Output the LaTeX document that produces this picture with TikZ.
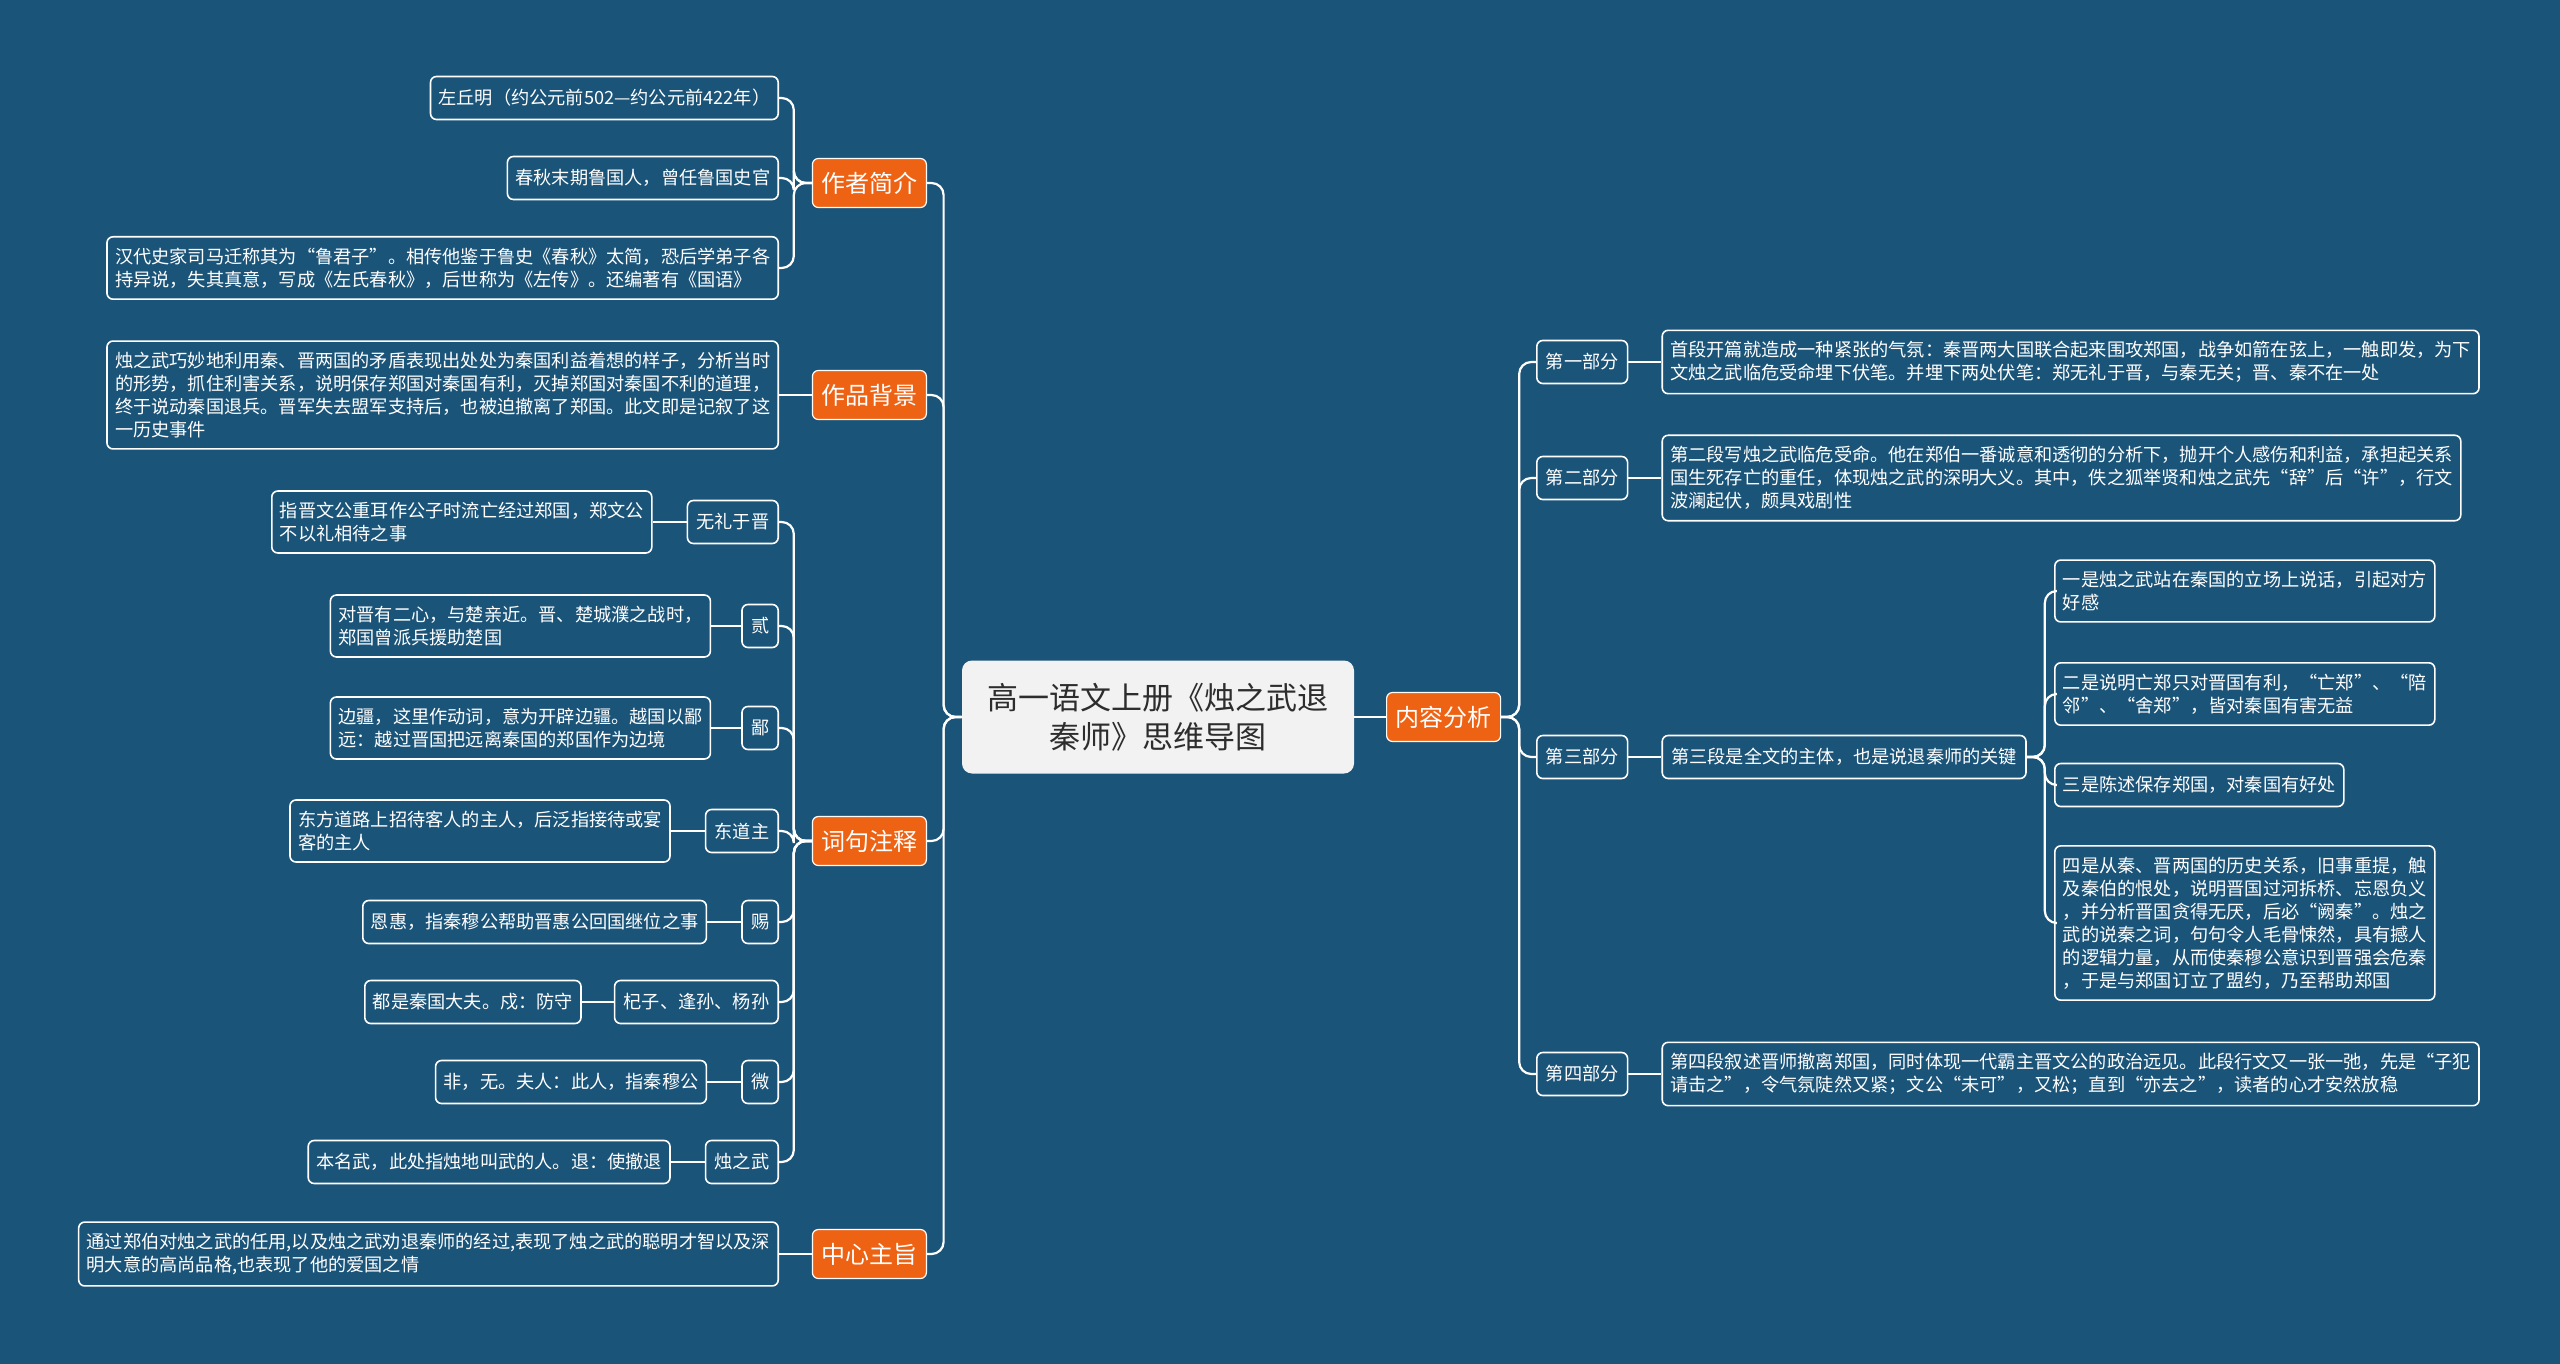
\documentclass[tikz,border=0pt]{standalone}
\usepackage{fontspec}
\setmainfont{Noto Sans CJK SC}
\usepackage{tikz}
\usetikzlibrary{positioning}
\definecolor{bgblue}{RGB}{27,84,121}
\definecolor{topicorange}{RGB}{238,98,20}
\definecolor{rootgray}{RGB}{242,242,242}
\definecolor{roottext}{RGB}{45,45,45}
\tikzset{
  rootbox/.style={fill=rootgray,rounded corners=5pt,text=roottext,align=center,font=\fontsize{15.5}{19.5}\selectfont,minimum width=196pt,minimum height=56.5pt,inner sep=0pt},
  topicbox/.style={fill=topicorange,draw=white,line width=0.6pt,rounded corners=3pt,text=white,font=\fontsize{12}{14}\selectfont,minimum height=24.5pt,inner xsep=4.5pt,inner ysep=0pt},
  labelbox/.style={draw=white,line width=0.8pt,rounded corners=3pt,text=white,font=\fontsize{9.1}{11.5}\selectfont,minimum height=21.5pt,inner xsep=4.5pt,inner ysep=0pt},
  notebox/.style={draw=white,line width=0.8pt,rounded corners=3pt,text=white,align=left,font=\fontsize{9.1}{11.5}\selectfont,minimum height=21.5pt,inner xsep=4pt,inner ysep=5.5pt},
  link/.style={draw=white,line width=1.1pt,rounded corners=6pt},
}
\begin{document}
\begin{tikzpicture}[x=.5pt,y=-.5pt]
\path[use as bounding box] (0,0) rectangle (2560,1364);
\path[fill=bgblue,draw=none] (0,0) rectangle (2560,1364);
% centre and main topics
\node[rootbox] (root) at (1158,717) {高一语文上册《烛之武退\\秦师》思维导图};
\node[topicbox,anchor=east] (author) at (927,183) {作者简介};
\node[topicbox,anchor=east] (background) at (927,395) {作品背景};
\node[topicbox,anchor=east] (notes) at (927,841) {词句注释};
\node[topicbox,anchor=east] (theme) at (927,1254) {中心主旨};
\node[topicbox,anchor=west] (content) at (1386,717) {内容分析};
% author
\node[notebox,anchor=east] (authorA) at (779,98) {左丘明（约公元前502—约公元前422年）};
\node[notebox,anchor=east] (authorB) at (779,178) {春秋末期鲁国人，曾任鲁国史官};
\node[notebox,anchor=east] (authorC) at (779,268) {汉代史家司马迁称其为“鲁君子”。相传他鉴于鲁史《春秋》太简，恐后学弟子各\\持异说，失其真意，写成《左氏春秋》，后世称为《左传》。还编著有《国语》};
% background
\node[notebox,anchor=east] (backgroundA) at (779,395) {烛之武巧妙地利用秦、晋两国的矛盾表现出处处为秦国利益着想的样子，分析当时\\的形势，抓住利害关系，说明保存郑国对秦国有利，灭掉郑国对秦国不利的道理，\\终于说动秦国退兵。晋军失去盟军支持后，也被迫撤离了郑国。此文即是记叙了这\\一历史事件};
% word notes
\node[labelbox,anchor=east] (wuli) at (779,522) {无礼于晋};
\node[notebox,left=17pt of wuli] (wuliText) {指晋文公重耳作公子时流亡经过郑国，郑文公\\不以礼相待之事};
\node[labelbox,anchor=east] (er) at (779,626) {贰};
\node[notebox,left=15pt of er] (erText) {对晋有二心，与楚亲近。晋、楚城濮之战时，\\郑国曾派兵援助楚国};
\node[labelbox,anchor=east] (bi) at (779,728) {鄙};
\node[notebox,left=15pt of bi] (biText) {边疆，这里作动词，意为开辟边疆。越国以鄙\\远：越过晋国把远离秦国的郑国作为边境};
\node[labelbox,anchor=east] (dongdao) at (779,831) {东道主};
\node[notebox,left=17pt of dongdao] (dongdaoText) {东方道路上招待客人的主人，后泛指接待或宴\\客的主人};
\node[labelbox,anchor=east] (ci) at (779,922) {赐};
\node[notebox,left=17pt of ci] (ciText) {恩惠，指秦穆公帮助晋惠公回国继位之事};
\node[labelbox,anchor=east] (qizi) at (779,1002) {杞子、逢孙、杨孙};
\node[notebox,left=16pt of qizi] (qiziText) {都是秦国大夫。戍：防守};
\node[labelbox,anchor=east] (wei) at (779,1082) {微};
\node[notebox,left=17pt of wei] (weiText) {非，无。夫人：此人，指秦穆公};
\node[labelbox,anchor=east] (zhu) at (779,1162) {烛之武};
\node[notebox,left=17pt of zhu] (zhuText) {本名武，此处指烛地叫武的人。退：使撤退};
% theme
\node[notebox,anchor=east] (themeA) at (779,1254) {通过郑伯对烛之武的任用,以及烛之武劝退秦师的经过,表现了烛之武的聪明才智以及深\\明大意的高尚品格,也表现了他的爱国之情};
% content analysis
\node[labelbox,anchor=west] (partA) at (1536,362) {第一部分};
\node[notebox,right=16.5pt of partA] (partAText) {首段开篇就造成一种紧张的气氛：秦晋两大国联合起来围攻郑国，战争如箭在弦上，一触即发，为下\\文烛之武临危受命埋下伏笔。并埋下两处伏笔：郑无礼于晋，与秦无关；晋、秦不在一处};
\node[labelbox,anchor=west] (partB) at (1536,478) {第二部分};
\node[notebox,right=16.5pt of partB] (partBText) {第二段写烛之武临危受命。他在郑伯一番诚意和透彻的分析下，抛开个人感伤和利益，承担起关系\\国生死存亡的重任，体现烛之武的深明大义。其中，佚之狐举贤和烛之武先“辞”后“许”，行文\\波澜起伏，颇具戏剧性};
\node[labelbox,anchor=west] (partC) at (1536,757) {第三部分};
\node[labelbox,right=16.5pt of partC] (partCText) {第三段是全文的主体，也是说退秦师的关键};
\node[notebox,anchor=west] (pointA) at (2054,591) {一是烛之武站在秦国的立场上说话，引起对方\\好感};
\node[notebox,anchor=west] (pointB) at (2054,694) {二是说明亡郑只对晋国有利，“亡郑”、“陪\\邻”、“舍郑”，皆对秦国有害无益};
\node[notebox,anchor=west] (pointC) at (2054,785) {三是陈述保存郑国，对秦国有好处};
\node[notebox,anchor=west] (pointD) at (2054,923) {四是从秦、晋两国的历史关系，旧事重提，触\\及秦伯的恨处，说明晋国过河拆桥、忘恩负义\\，并分析晋国贪得无厌，后必“阙秦”。烛之\\武的说秦之词，句句令人毛骨悚然，具有撼人\\的逻辑力量，从而使秦穆公意识到晋强会危秦\\，于是与郑国订立了盟约，乃至帮助郑国};
\node[labelbox,anchor=west] (partD) at (1536,1074) {第四部分};
\node[notebox,right=16.5pt of partD] (partDText) {第四段叙述晋师撤离郑国，同时体现一代霸主晋文公的政治远见。此段行文又一张一弛，先是“子犯\\请击之”，令气氛陡然又紧；文公“未可”，又松；直到“亦去之”，读者的心才安然放稳};
% connectors
\foreach \t in {author,background,notes,theme}
  \draw[link] (root.west) -- ++(-18,0) |- (\t.east);
\draw[link] (root.east) -- (content.west);
\foreach \t in {authorA,authorB,authorC}
  \draw[link] (author.west) -- ++(-18,0) |- (\t.east);
\draw[link] (background.west) -- (backgroundA.east);
\foreach \t in {wuli,er,bi,dongdao,ci,qizi,wei,zhu}
  \draw[link] (notes.west) -- ++(-18,0) |- (\t.east);
\foreach \t in {wuli,er,bi,dongdao,ci,qizi,wei,zhu}
  \draw[link] (\t.west) -- (\t Text.east);
\draw[link] (theme.west) -- (themeA.east);
\foreach \t in {partA,partB,partC,partD}
  \draw[link] (content.east) -- ++(18,0) |- (\t.west);
\foreach \t in {partA,partB,partC,partD}
  \draw[link] (\t.east) -- (\t Text.west);
\foreach \t in {pointA,pointB,pointC,pointD}
  \draw[link] (partCText.east) -- ++(18,0) |- (\t.west);
\end{tikzpicture}
\end{document}
